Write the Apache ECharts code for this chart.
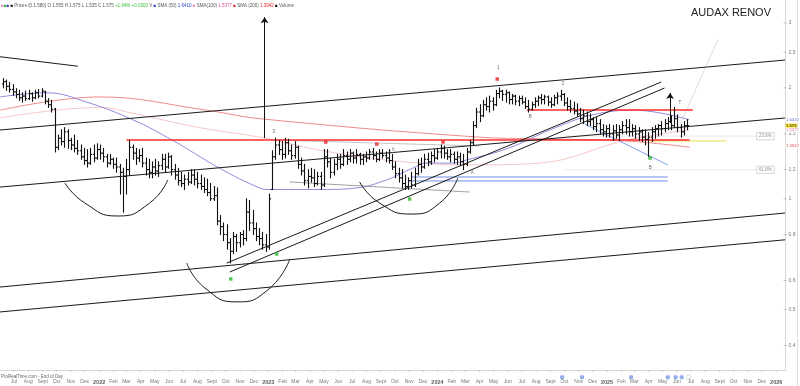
<!DOCTYPE html>
<html><head><meta charset="utf-8">
<script src="https://cdn.jsdelivr.net/npm/echarts@6/dist/echarts.min.js"></script>
<style>html,body{margin:0;padding:0;background:#fff}#c{width:800px;height:386px}</style>
</head><body><div id="c"></div>
<script>
// ---------- DATA ----------
const firstWeek = '2021-06-07';           // weekly bars
// [open, high, low, close]
const ohlc = [
[2.05,2.12,2.00,2.08],[2.08,2.10,1.97,2.02],[2.02,2.07,1.95,1.98],[1.98,2.04,1.91,1.95],[1.95,1.99,1.88,1.92],
[1.92,1.97,1.85,1.88],[1.88,1.94,1.83,1.90],[1.90,1.96,1.85,1.87],[1.87,1.97,1.86,1.93],[1.93,1.94,1.84,1.88],
[1.88,1.97,1.87,1.94],[1.94,1.98,1.88,1.90],[1.90,1.99,1.89,1.96],[1.95,1.96,1.81,1.84],[1.84,1.87,1.77,1.80],
[1.80,1.85,1.72,1.75],[1.75,1.76,1.34,1.38],[1.38,1.49,1.36,1.46],[1.46,1.54,1.40,1.43],[1.43,1.56,1.38,1.52],
[1.52,1.54,1.37,1.44],[1.44,1.46,1.36,1.40],[1.40,1.49,1.34,1.37],[1.37,1.44,1.32,1.35],[1.35,1.40,1.28,1.30],
[1.30,1.37,1.24,1.27],[1.27,1.36,1.22,1.25],[1.25,1.37,1.24,1.32],[1.32,1.40,1.26,1.29],[1.29,1.41,1.28,1.36],
[1.36,1.40,1.28,1.33],[1.33,1.37,1.26,1.30],[1.30,1.32,1.22,1.25],[1.25,1.32,1.24,1.28],[1.28,1.29,1.21,1.24],
[1.24,1.29,1.18,1.22],[1.22,1.24,1.03,1.18],[1.18,1.21,0.92,1.15],[1.15,1.28,1.03,1.20],[1.20,1.44,1.16,1.38],
[1.38,1.40,1.28,1.33],[1.33,1.37,1.24,1.29],[1.29,1.36,1.26,1.31],[1.31,1.37,1.22,1.25],[1.25,1.29,1.16,1.20],
[1.20,1.28,1.14,1.18],[1.18,1.26,1.14,1.22],[1.22,1.28,1.16,1.19],[1.19,1.26,1.15,1.23],[1.23,1.32,1.20,1.28],
[1.28,1.32,1.18,1.22],[1.22,1.33,1.21,1.30],[1.30,1.31,1.16,1.20],[1.20,1.24,1.13,1.16],[1.16,1.21,1.09,1.12],
[1.12,1.18,1.08,1.10],[1.10,1.16,1.06,1.13],[1.13,1.18,1.09,1.11],[1.11,1.20,1.10,1.16],[1.16,1.20,1.09,1.13],
[1.13,1.18,1.07,1.10],[1.10,1.16,1.06,1.08],[1.08,1.14,1.04,1.06],[1.06,1.13,1.02,1.04],[1.04,1.10,0.99,1.00],
[1.00,1.08,0.99,1.02],[1.02,1.07,0.85,0.87],[0.87,0.90,0.80,0.84],[0.84,0.86,0.77,0.80],[0.80,0.85,0.73,0.76],
[0.76,0.78,0.67,0.72],[0.72,0.81,0.71,0.79],[0.79,0.80,0.72,0.76],[0.76,0.81,0.74,0.80],[0.80,0.82,0.75,0.78],
[0.78,1.00,0.77,0.92],[0.92,0.99,0.82,0.86],[0.86,0.93,0.80,0.83],[0.83,0.86,0.77,0.79],[0.79,0.83,0.75,0.78],
[0.78,0.81,0.73,0.75],[0.75,0.80,0.72,0.74],[0.74,1.03,0.73,1.00],[1.06,1.35,1.06,1.30],[1.30,1.46,1.28,1.40],
[1.40,1.44,1.32,1.36],[1.36,1.43,1.28,1.32],[1.32,1.46,1.29,1.42],[1.42,1.45,1.32,1.35],[1.35,1.40,1.28,1.31],
[1.31,1.43,1.29,1.38],[1.38,1.39,1.21,1.24],[1.24,1.29,1.16,1.19],[1.19,1.24,1.09,1.12],[1.12,1.20,1.07,1.15],
[1.15,1.21,1.11,1.14],[1.14,1.20,1.08,1.10],[1.10,1.18,1.09,1.15],[1.15,1.18,1.06,1.09],[1.09,1.36,1.08,1.30],
[1.30,1.36,1.22,1.26],[1.26,1.29,1.14,1.18],[1.18,1.28,1.16,1.24],[1.24,1.32,1.20,1.28],[1.28,1.32,1.21,1.24],
[1.24,1.36,1.23,1.31],[1.31,1.34,1.24,1.28],[1.28,1.36,1.26,1.33],[1.33,1.34,1.25,1.29],[1.29,1.36,1.25,1.32],
[1.32,1.33,1.24,1.28],[1.28,1.32,1.24,1.30],[1.30,1.34,1.26,1.29],[1.29,1.36,1.28,1.34],[1.34,1.37,1.28,1.31],
[1.31,1.34,1.26,1.28],[1.28,1.36,1.27,1.33],[1.33,1.36,1.29,1.31],[1.31,1.34,1.26,1.29],[1.29,1.36,1.25,1.27],
[1.27,1.32,1.20,1.22],[1.22,1.26,1.14,1.17],[1.17,1.21,1.11,1.14],[1.14,1.20,1.07,1.10],[1.10,1.16,1.06,1.08],
[1.08,1.14,1.06,1.12],[1.12,1.18,1.07,1.09],[1.09,1.21,1.08,1.17],[1.17,1.28,1.16,1.24],[1.24,1.29,1.18,1.22],
[1.22,1.32,1.21,1.28],[1.28,1.33,1.23,1.26],[1.26,1.34,1.24,1.31],[1.31,1.36,1.26,1.29],[1.29,1.37,1.28,1.34],
[1.34,1.40,1.29,1.37],[1.37,1.39,1.29,1.33],[1.33,1.36,1.28,1.30],[1.30,1.36,1.26,1.32],[1.32,1.34,1.25,1.28],
[1.28,1.34,1.24,1.30],[1.30,1.33,1.23,1.26],[1.26,1.32,1.20,1.24],[1.24,1.37,1.23,1.34],[1.34,1.44,1.33,1.42],
[1.42,1.62,1.40,1.58],[1.58,1.76,1.56,1.72],[1.72,1.80,1.62,1.68],[1.68,1.85,1.67,1.80],[1.80,1.88,1.74,1.78],
[1.78,1.90,1.72,1.84],[1.84,1.88,1.74,1.80],[1.80,1.97,1.79,1.93],[1.93,2.00,1.88,1.96],[1.96,1.97,1.85,1.92],
[1.92,1.97,1.83,1.94],[1.94,1.95,1.81,1.86],[1.86,1.92,1.81,1.90],[1.90,1.91,1.80,1.84],[1.84,1.90,1.79,1.87],
[1.87,1.90,1.81,1.83],[1.83,1.88,1.76,1.78],[1.78,1.85,1.72,1.75],[1.75,1.83,1.74,1.80],[1.80,1.88,1.77,1.84],
[1.84,1.90,1.79,1.88],[1.88,1.92,1.81,1.86],[1.86,1.91,1.81,1.89],[1.89,1.90,1.79,1.83],[1.83,1.88,1.77,1.80],
[1.80,1.91,1.79,1.88],[1.88,1.94,1.81,1.90],[1.90,1.97,1.85,1.92],[1.92,1.93,1.79,1.82],[1.82,1.88,1.74,1.78],
[1.78,1.85,1.72,1.76],[1.76,1.83,1.70,1.73],[1.73,1.81,1.68,1.70],[1.70,1.76,1.62,1.65],[1.65,1.74,1.60,1.68],
[1.68,1.72,1.58,1.62],[1.62,1.70,1.58,1.64],[1.64,1.66,1.54,1.57],[1.57,1.66,1.52,1.60],[1.60,1.64,1.50,1.54],
[1.54,1.59,1.48,1.52],[1.52,1.58,1.47,1.55],[1.55,1.59,1.47,1.50],[1.50,1.58,1.44,1.53],[1.53,1.59,1.46,1.49],
[1.49,1.58,1.44,1.54],[1.54,1.62,1.50,1.58],[1.58,1.64,1.50,1.56],[1.56,1.64,1.48,1.52],[1.52,1.59,1.48,1.55],
[1.55,1.58,1.46,1.50],[1.50,1.56,1.44,1.52],[1.52,1.54,1.43,1.47],[1.47,1.54,1.40,1.45],[1.45,1.51,1.30,1.47],
[1.47,1.56,1.43,1.52],[1.52,1.58,1.46,1.55],[1.55,1.59,1.48,1.58],[1.58,1.62,1.49,1.55],[1.55,1.64,1.52,1.60],
[1.60,1.66,1.54,1.62],[1.62,1.68,1.54,1.58],[1.58,1.77,1.56,1.65],[1.65,1.69,1.52,1.56],[1.56,1.59,1.47,1.52],
[1.52,1.62,1.49,1.58],[1.58,1.64,1.54,1.58]
];
// moving averages
const smaBlue = [['2021-06-01',1.89],['2021-09-10',1.94],['2021-12-05',1.83],['2022-03-14',1.64],['2022-06-09',1.44],
 ['2022-09-18',1.21],['2022-12-13',1.07],['2023-01-01',1.06],['2023-04-28',1.06],['2023-07-10',1.07],['2023-09-13',1.125],
 ['2023-11-08',1.21],['2023-12-08',1.25],['2024-02-03',1.25],['2024-03-04',1.275],['2024-06-01',1.37],['2024-09-01',1.54],
 ['2024-12-01',1.69],['2025-03-01',1.74],['2025-06-27',1.64]];
const smaPink = [['2021-06-01',1.657],['2022-01-03',1.77],['2022-03-14',1.706],['2022-08-06',1.56],['2022-12-13',1.47],
 ['2023-05-14',1.34],['2023-11-23',1.25],['2024-04-01',1.236],['2024-08-09',1.25],['2025-02-13',1.444],['2025-06-28',1.537]];
const smaRed = [['2021-06-01',1.74],['2022-01-03',1.89],['2022-08-21',1.74],['2022-12-13',1.65],['2024-04-01',1.47],
 ['2024-08-09',1.455],['2025-02-13',1.435],['2025-06-28',1.38]];
// right axis tick labels
const yTicks = [0.4,0.5,0.6,0.8,1,1.2,1.5,2,2.5,3];
const monthNames = ['Jan','Feb','Mar','Apr','May','Jun','Jul','Aug','Sept','Oct','Nov','Dec'];
// drawn annotations: [[date, price],[date, price]]
const blackLines = [
 [['2021-06-01',2.43],['2021-11-16',2.29]],
 [['2021-06-01',1.537],['2026-01-20',2.38]],
 [['2021-06-01',1.076],['2026-01-20',1.657]],
 [['2021-06-01',0.576],['2026-01-20',0.915]],
 [['2021-06-01',0.493],['2026-01-20',0.774]],
 [['2022-10-03',0.669],['2025-04-28',2.075]],
 [['2022-10-10',0.633],['2025-05-05',1.998]]
];
const grayLines = [
 [['2023-02-16',1.111],['2024-03-11',1.043]],
 [['2023-01-04',1.444],['2024-04-01',1.391]]
];
const redLines = [
 [['2022-03-01',1.444],['2025-06-28',1.444]],
 [['2024-07-12',1.742],['2025-07-05',1.742]]
];
const blueLines = [
 [['2023-11-06',1.146],['2025-05-12',1.146]],
 [['2023-11-06',1.118],['2025-05-12',1.118]],
 [['2024-11-14',1.596],['2025-05-12',1.236]]
];
const yellowLine = [['2025-04-04',1.435],['2025-09-16',1.435]];
const fibLines = [
 {label:'23.6%', pts:[['2024-10-01',1.48],['2025-12-28',1.48]]},
 {label:'61.8%', pts:[['2024-10-01',1.198],['2025-12-28',1.198]]}
];
const faintRise = [['2025-06-07',1.586],['2025-08-28',2.70]];
const arcs = [
 [['2021-10-19',1.104],['2021-12-01',0.974],['2022-02-10',0.898],['2022-04-20',0.974],['2022-05-29',1.125]],
 [['2023-07-17',1.111],['2023-08-29',0.974],['2023-11-06',0.909],['2024-01-06',0.974],['2024-02-14',1.139]],
 [['2022-07-09',0.669],['2022-08-17',0.573],['2022-10-25',0.525],['2022-12-31',0.566],['2023-02-16',0.683]]
];
const arrows = [
 [['2022-12-24',1.462],['2022-12-24',3.11]],
 [['2025-05-17',1.605],['2025-05-17',1.937]]
];
const redMarks = [['2023-05-05',1.426],['2023-08-23',1.408],['2024-01-13',1.426],['2024-05-09',2.114]];
const greenMarks = [['2022-10-12',0.606],['2023-01-19',0.708],['2023-11-02',0.999],['2025-04-04',1.29]];
const noteLabels = [['2023-01-13',1.52,'3'],['2024-05-11',2.27,'1'],['2024-09-28',2.05,'2'],['2024-07-19',1.667,'B'],
 ['2024-03-16',1.175,'A'],['2025-04-04',1.212,'B'],['2023-09-28',1.357,'b'],['2025-06-07',1.82,'T']];
const eventMarks = ['2024-09-26','2024-11-08','2025-02-22','2025-05-12','2025-05-29','2025-06-11'];
const lastPrice = 1.575, smaBlueLast = 1.641, smaPinkLast = 1.5377, smaRedLast = 1.3942;

// ---------- BUILD ----------
const D = s => Date.parse(s + 'T00:00:00Z');
const xMin = D('2021-06-01'), xMax = D('2026-01-20');
const yMin = 0.343, yMax = 3.464;
const W = 7*86400000, t0 = D(firstWeek);
const bars = ohlc.map((r,i)=>[t0 + i*W, r[0], r[1], r[2], r[3]]);
const P = a => a.map(p=>[D(p[0]), p[1]]);
const HID = {color:'rgba(0,0,0,0)'};

const monthTicks = [];
for (let y=2021, m=6; y<2026 || (y===2026 && m===0); ) { monthTicks.push(Date.UTC(y,m,1)); m++; if(m>11){m=0;y++;} }

function renderOHLC(params, api){
  const t = api.value(0);
  const o = api.coord([t, api.value(1)]), h = api.coord([t, api.value(2)]);
  const l = api.coord([t, api.value(3)]), c = api.coord([t, api.value(4)]);
  const x = Math.round(h[0]) + 0.5;
  const st = {stroke:'#111', lineWidth:1.1};
  return {type:'group', children:[
    {type:'line', shape:{x1:x,y1:h[1]-0.5,x2:x,y2:l[1]+0.5}, style:st},
    {type:'line', shape:{x1:x-1.6,y1:o[1],x2:x,y2:o[1]}, style:st},
    {type:'line', shape:{x1:x,y1:c[1],x2:x+1.6,y2:c[1]}, style:st}
  ]};
}

const series = [];
function seg(pts, color, width, z, smooth){
  series.push({type:'line', data:P(pts), symbol:'none', smooth: smooth||false, silent:true, z: z||3,
    lineStyle:{color, width}, clip:true});
}
// moving averages
seg(smaRed, '#f08a8a', 1, 2, 0.4);
seg(smaPink, '#f6c6c6', 1, 2, 0.4);
seg(smaBlue, '#8c8cdc', 1, 2, 0.4);
// annotations
fibLines.forEach(f=>seg(f.pts,'#e2e2e2',0.8,1));
seg(yellowLine,'#f4efa6',2,1);
seg(faintRise,'#d4d4d4',0.8,1);
grayLines.forEach((l,i)=>seg(l, i===0?'#777':'#aaa', 0.7, 3));
blueLines.forEach((l,i)=>seg(l, i<2?'#6e8fe6':'#7ea4f0', 1, 3));
redLines.forEach(l=>seg(l,'#ff2b2b',1.6,4));
blackLines.forEach(l=>seg(l,'#1a1a1a',1,5));
arcs.forEach(a=>seg(a,'#1a1a1a',1,5,0.55));

// OHLC bars
series.push({type:'custom', renderItem:renderOHLC, data:bars, encode:{x:0,y:[1,2,3,4]}, z:6, silent:true});

// arrows
series.push({type:'line', data:[], silent:true, markLine:{silent:true, symbol:['none','arrow'], symbolSize:6,
  label:{show:false}, lineStyle:{color:'#111', width:1, type:'solid'},
  data: arrows.map(a=>[{coord:[D(a[0][0]),a[0][1]]},{coord:[D(a[1][0]),a[1][1]]}])}});

// markers
series.push({type:'scatter', data:P(redMarks), symbol:'rect', symbolSize:[3.5,3.5], itemStyle:{color:'#e8262a'}, z:7, silent:true});
series.push({type:'scatter', data:P(greenMarks), symbol:'rect', symbolSize:[3.5,3.5], itemStyle:{color:'#2eb82e'}, z:7, silent:true});
series.push({type:'scatter', data:noteLabels.map(n=>[D(n[0]),n[1],n[2]]), symbol:'circle', symbolSize:1, itemStyle:HID, z:7, silent:true,
  label:{show:true, formatter:p=>p.value[2], fontSize:4.5, color:'#444', position:'inside'}});
series.push({type:'scatter', data:eventMarks.map(d=>[D(d),0.328]), symbol:'roundRect', symbolSize:4, clip:false,
  itemStyle:{color:'#7b9be6'}, z:7, silent:true});
series.push({type:'scatter', data:[[D('2025-06-26'),0.328]], symbol:'rect', symbolSize:4, clip:false,
  itemStyle:{color:'#fff', borderColor:'#bbb', borderWidth:0.6}, z:7, silent:true});

// bottom month labels and ticks
series.push({type:'scatter', data:monthTicks.map(t=>[t, yMin]), symbol:'rect', symbolSize:[0.8,2], symbolOffset:[0,1],
  clip:false, silent:true, z:8, itemStyle:{color:'#bbb'},
  label:{show:true, position:'bottom', distance:7, fontSize:5, color:'#555', fontFamily:'Liberation Sans',
    formatter:p=>{const d=new Date(p.value[0]); const m=d.getUTCMonth(); return m===0?'{b|'+d.getUTCFullYear()+'}':monthNames[m];},
    rich:{b:{fontWeight:'bold', fontSize:5.5, color:'#333'}}}});

// right-axis tick labels
series.push({type:'scatter', data:yTicks.map(v=>[xMax, v]), symbol:'rect', symbolSize:[3,0.7], clip:false,
  itemStyle:{color:'#999'}, silent:true, z:8,
  label:{show:true, position:'right', distance:2, formatter:p=>String(p.value[1]), fontSize:5, color:'#555',
    fontFamily:'Liberation Sans'}});
// fib boxes
series.push({type:'scatter', data:fibLines.map(f=>[D(f.pts[1][0]), f.pts[1][1], f.label]), symbol:'circle', symbolSize:1,
  itemStyle:HID, clip:false, silent:true, z:8,
  label:{show:true, position:'left', distance:0, formatter:p=>p.value[2], fontSize:4.5, color:'#777',
    backgroundColor:'#fff', borderColor:'#bbb', borderWidth:0.6, padding:[1,2]}});
// price tags
const tags = [[smaBlueLast,'#3a4fd0','#fff'],[lastPrice,'#111','#ffe400'],[smaPinkLast,'#e0569a','#fff'],[smaRedLast,'#e8262a','#fff']];
series.push({type:'scatter', symbol:'circle', symbolSize:1, itemStyle:HID, clip:false, silent:true, z:9,
  data: tags.map((t,i)=>({value:[xMax,t[0]], label:{color:t[1], backgroundColor:t[2],
    fontWeight: i===1?'bold':'normal', formatter: i===1? lastPrice.toFixed(3) : t[0].toFixed(4)}})),
  label:{show:true, position:'right', distance:0, fontSize:4.2, padding:[0.5,0.5]}});

const option = {
  animation:false,
  backgroundColor:'#fff',
  textStyle:{fontFamily:'Liberation Sans, Arial, sans-serif'},
  title:{text:'AUDAX RENOV', right:24, top:2, textStyle:{fontSize:11, fontWeight:'normal', color:'#222', fontFamily:'Liberation Sans'}},
  grid:{left:0, right:15, top:0, bottom:16, containLabel:false},
  xAxis:{type:'time', min:xMin, max:xMax, splitLine:{show:false},
    axisLine:{lineStyle:{color:'#ccc', width:0.8}}, axisTick:{show:false}, axisLabel:{show:false}},
  yAxis:{type:'log', logBase:10, min:yMin, max:yMax, position:'right', splitLine:{show:false},
    axisLine:{show:true, lineStyle:{color:'#ccc', width:0.8}}, axisTick:{show:false}, axisLabel:{show:false}},
  graphic:[
    {type:'text', left:1, top:3, silent:true, style:{fontSize:4.5, fill:'#555', fontFamily:'Liberation Sans',
      text:'{p|■}{g|■}{bl|■} {k|■} Prices (0.1.580) O 1.555 H 1.575 L 1.535 C 1.575 {gr|+1.94% +0.0300} V {bl|■} SMA (50) {blt|1.6410} {p|■} SMA(100) {pt|1.5377} {r|■} SMA (200) {rt|1.3942} {k|■} Volume',
      rich:{p:{fill:'#f08ac0',fontSize:4.5},g:{fill:'#3cbc3c',fontSize:4.5},bl:{fill:'#2a3fc8',fontSize:4.5},k:{fill:'#111',fontSize:4.5},
        gr:{fill:'#3cbc3c',fontSize:4.5},blt:{fill:'#2a3fc8',fontSize:4.5},pt:{fill:'#e0569a',fontSize:4.5},r:{fill:'#e8262a',fontSize:4.5},rt:{fill:'#e8262a',fontSize:4.5}}}},
    {type:'text', left:1, top:374, silent:true, style:{text:'ProRealTime.com - End of Day', fontSize:4.5, fill:'#666', fontFamily:'Liberation Sans'}},
    {type:'line', silent:true, shape:{x1:797.5,y1:0,x2:797.5,y2:386}, style:{stroke:'#ddd', lineWidth:1}}
  ],
  series
};
const chart = echarts.init(document.getElementById('c'), null, {renderer:'canvas'});
chart.setOption(option);
</script></body></html>
